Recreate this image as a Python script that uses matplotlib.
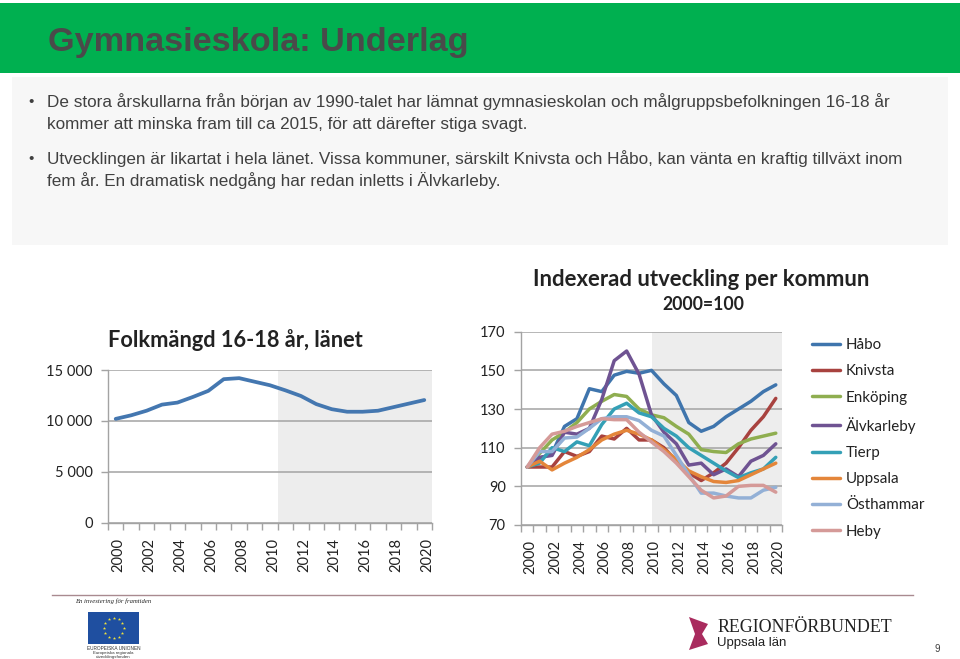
import numpy as np
import matplotlib
matplotlib.use("Agg")
import matplotlib.pyplot as plt
from matplotlib.patches import Rectangle, Polygon
from matplotlib.transforms import ScaledTranslation

W, H = 960, 659

years = list(range(2000, 2021))
year_labels = [str(y) for y in years[::2]]

lanet = [10200, 10550, 11000, 11600, 11800, 12350, 12950, 14100, 14200, 13850, 13500,
         13000, 12450, 11650, 11150, 10900, 10900, 11000, 11350, 11700, 12050]

habo = [100, 104.5, 107, 121, 125, 140.5, 139, 147.5, 149.5, 148.5, 150,
        143, 137, 123, 118.5, 121, 126, 130, 134, 139, 142.5]
knivsta = [100, 100, 100, 108, 105.5, 108, 116, 114.5, 120, 114, 114,
           110, 103, 97, 93, 97, 102, 110, 119, 126, 135.5]
enkoping = [100, 107, 114, 118, 123, 130, 134, 137.5, 136.5, 130, 127,
            125.5, 121, 117, 109, 108, 107.5, 112, 114.5, 116, 117.5]
alvkarleby = [100, 105, 106, 118, 117, 120, 135, 155, 160, 148, 127,
              118, 112, 101, 102, 96, 99, 95, 103, 106, 112]
tierp = [100, 102, 110, 108, 113, 111, 122, 130, 133, 128, 126,
         120, 116, 110, 106, 102, 98, 94.5, 97, 99, 105]
uppsala = [100, 103, 98.5, 102, 105, 109, 114, 117, 119, 117, 114,
           109, 104, 98, 95, 92.5, 92, 93, 96, 99, 102]
osthammar = [100, 108, 108, 115, 115.5, 120, 125, 126, 126, 124, 119,
             116, 106, 96, 86.5, 86.5, 85, 84, 84, 88, 89.5]
heby = [100, 110, 117, 118.5, 121, 123, 125, 124.5, 124.5, 118, 113,
        108, 102, 95, 88, 84, 85, 90, 90.5, 90.5, 87]

kommun_names = ["Håbo", "Knivsta", "Enköping", "Älvkarleby", "Tierp", "Uppsala", "Östhammar", "Heby"]
kommun_values = [habo, knivsta, enkoping, alvkarleby, tierp, uppsala, osthammar, heby]
kommun_colors = ["#3F75AD", "#A8423F", "#8FAE50", "#6F5392", "#34A0B6", "#E4863A", "#93B0D6", "#D59A98"]

GRAY = "#A3A3A3"
SHADE = "#EDEDED"
TEXT = "#404040"
CHART_FONT = ["Lato", "DejaVu Sans"]

fig = plt.figure(figsize=(W / 100, H / 100), dpi=100)

# page background, text and logos, in pixel coordinates
page = fig.add_axes([0, 0, 1, 1])
page.set_xlim(0, W)
page.set_ylim(H, 0)
page.axis("off")

page.add_patch(Rectangle((0, 3), W, 70, color="#00B050", lw=0))
page.add_patch(Rectangle((12, 77), 936, 168, color="#F7F7F7", lw=0))
page.text(48, 43, "Gymnasieskola: Underlag", fontsize=24.7, fontweight="bold",
          family="Liberation Sans", color="#4A4A4A", va="center")

body = [(102, "De stora årskullarna från början av 1990-talet har lämnat gymnasieskolan och målgruppsbefolkningen 16-18 år", True),
        (124, "kommer att minska fram till ca 2015, för att därefter stiga svagt.", False),
        (159, "Utvecklingen är likartat i hela länet. Vissa kommuner, särskilt Knivsta och Håbo, kan vänta en kraftig tillväxt inom", True),
        (181, "fem år. En dramatisk nedgång har redan inletts i Älvkarleby.", False)]
for y, line, bullet in body:
    page.text(47, y, line, fontsize=12.3, family="Liberation Sans", color=TEXT, va="center")
    if bullet:
        page.text(31, y, "•", fontsize=11, family="Liberation Sans", color=TEXT, va="center", ha="center")

page.text(108, 340, "Folkmängd 16-18 år, länet", fontsize=15.7, fontweight="bold",
          family=CHART_FONT, color="#222222", va="center")
page.text(701.5, 279, "Indexerad utveckling per kommun", fontsize=15.9, fontweight="bold",
          family=CHART_FONT, color="#222222", va="center", ha="center")
page.text(703, 304, "2000=100", fontsize=12.7, fontweight="bold",
          family=CHART_FONT, color="#222222", va="center", ha="center")

# footer
page.plot([52, 913], [595, 595], color="#A98A90", lw=1)
page.text(75, 601, "En investering för framtiden", fontsize=4.8, style="italic",
          family="Liberation Serif", color="#222222", va="center")
page.add_patch(Rectangle((88, 612), 51, 32, color="#1F4FA0", lw=0))
star_angle = np.arange(12) * np.pi / 6
page.scatter(113.5 + 10 * np.cos(star_angle), 628 + 10 * np.sin(star_angle), s=6, marker="*", color="#F2E33A", lw=0)
for y, t, fs in [(648, "EUROPEISKA UNIONEN", 3.4), (653, "Europeiska regionala", 3.2), (657, "utvecklingsfonden", 3.2)]:
    page.text(113.5, y, t, fontsize=fs, family="Liberation Sans", color="#333333", va="center", ha="center")
page.add_patch(Polygon([(689, 617), (708, 624), (702, 634), (708, 644), (689, 650), (695, 634)],
                       closed=True, color="#A92B5E", lw=0))
page.text(717, 628, "REGIONFÖRBUNDET", fontsize=12.9, family="Liberation Serif", color="#222222", va="center")
page.text(717, 643, "Uppsala län", fontsize=9.5, family="Liberation Sans", color="#222222", va="center")
page.text(937, 649, "9", fontsize=7, family="Liberation Sans", color=TEXT, va="center", ha="center")


def chart_axes(left, right, top, bottom):
    ax = fig.add_axes([left / W, 1 - bottom / H, (right - left) / W, (bottom - top) / H])
    ax.patch.set_alpha(0)
    for side in ["top", "right"]:
        ax.spines[side].set_visible(False)
    for side in ["left", "bottom"]:
        ax.spines[side].set_color(GRAY)
        ax.spines[side].set_linewidth(1.0)
    ax.set_xlim(years[0] - 0.5, years[-1] + 0.5)
    ax.set_xticks(np.arange(years[0] - 0.5, years[-1] + 1))
    ax.set_xticklabels([])
    ax.set_xticks(years[::2], minor=True)
    ax.set_xticklabels(year_labels, minor=True, rotation=90, family=CHART_FONT, fontsize=10.5, color="#222222")
    ax.tick_params(axis="x", which="major", length=5, color=GRAY, width=1)
    ax.tick_params(axis="x", which="minor", length=0, pad=11)
    ax.tick_params(axis="y", length=5, color=GRAY, width=1, labelsize=10.5, labelcolor="#222222", pad=6)
    # labels sit a bit right of the category centre in the original
    shift = ScaledTranslation(3 / 100, 0, fig.dpi_scale_trans)
    for lab in ax.get_xticklabels(minor=True):
        lab.set_transform(lab.get_transform() + shift)
    ax.grid(axis="y", color=GRAY, lw=1.1, zorder=1)
    ax.set_axisbelow(True)
    return ax


# left chart
ax1 = chart_axes(108, 432, 370, 522.7)
ax1.set_ylim(0, 15000)
ax1.set_yticks([0, 5000, 10000, 15000])
ax1.set_yticklabels(["0", "5 000", "10 000", "15 000"], family=CHART_FONT)
ax1.axvspan(2010.5, 2020.5, color=SHADE, lw=0, zorder=0)
ax1.plot(years, lanet, color="#4477B0", lw=2.7, solid_capstyle="round", clip_on=False, zorder=3)

# right chart
ax2 = chart_axes(521, 782, 331.7, 525)
ax2.set_ylim(70, 170)
ax2.set_yticks(range(70, 171, 20))
ax2.set_yticklabels([str(v) for v in range(70, 171, 20)], family=CHART_FONT)
ax2.axvspan(2010, 2020.5, color=SHADE, lw=0, zorder=0)
for name, values, color in zip(kommun_names, kommun_values, kommun_colors):
    ax2.plot(years, values, color=color, lw=2.5, label=name, solid_capstyle="round", zorder=3)

handles, labels = ax2.get_legend_handles_labels()
fig.legend(handles, labels, loc="upper left", bbox_to_anchor=(806 / W, 1 - 332 / H),
           frameon=False, handlelength=1.85, handletextpad=0.4, labelspacing=0.81,
           borderpad=0, borderaxespad=0.4, prop={"family": "Lato", "size": 10.9}, labelcolor="#222222")

fig.savefig("out.png", dpi=100)
